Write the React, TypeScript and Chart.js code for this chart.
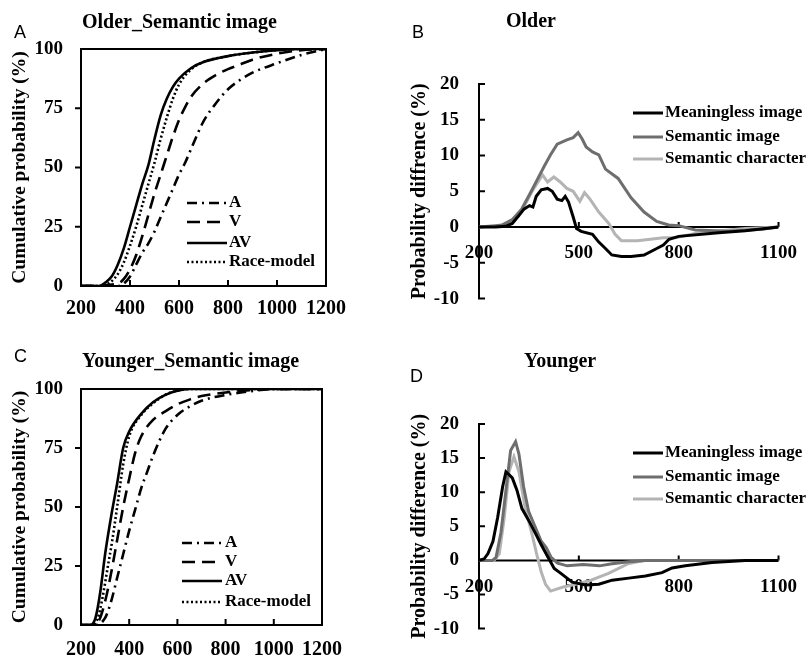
import React, { useEffect, useRef } from "react";
import { Chart, registerables } from "chart.js";
Chart.register(...registerables);

const SERIF = '"Liberation Serif", "Times New Roman", serif';
const SANS = '"Liberation Sans", Arial, sans-serif';

// ---------- tick values ----------
const cdfXTicks = [200, 400, 600, 800, 1000, 1200];
const cdfYTicks = [0, 25, 50, 75, 100];
const diffXTicks = [200, 500, 800, 1100];
const diffYTicks = [-10, -5, 0, 5, 10, 15, 20];

// ---------- Panel A: Older_Semantic image (cumulative probability %) ----------
const oldA_x = [200, 350, 375, 400, 425, 450, 475, 500, 525, 550, 575, 600, 625, 650, 675, 700, 750, 800, 850, 900, 1000, 1100, 1200];
const oldA_y = [0, 0, 1, 4, 9, 14, 18, 23, 29, 35, 41, 47, 52, 58, 64, 69.5, 77, 83, 87, 90, 94, 97.5, 100];
const oldV_x = [200, 350, 375, 400, 425, 450, 475, 500, 525, 550, 575, 600, 625, 650, 700, 750, 800, 850, 900, 1000, 1100, 1200];
const oldV_y = [0, 1, 3, 7, 13, 21, 30, 39, 47, 55, 63, 70, 75.5, 80, 85.5, 89, 91.5, 93.5, 95.5, 98, 99.5, 100];
const oldAV_x = [200, 275, 300, 325, 350, 375, 400, 425, 450, 475, 500, 525, 550, 575, 600, 650, 700, 800, 900, 1000, 1100, 1200];
const oldAV_y = [0, 0, 1.5, 4, 9, 16, 25, 34, 43, 51, 62, 72, 79, 84, 87.5, 92, 94.5, 97, 98.5, 99.5, 100, 100];
const oldRace_x = [200, 275, 300, 325, 350, 375, 400, 425, 450, 475, 500, 525, 550, 575, 600, 650, 700, 800, 900, 1000, 1100, 1200];
const oldRace_y = [0, 0, 0.5, 2, 5, 10, 17, 25, 34, 43, 52, 62, 71, 79, 85, 91.5, 94.5, 97, 98.5, 99.5, 100, 100];

// ---------- Panel C: Younger_Semantic image (cumulative probability %) ----------
const youA_x = [200, 260, 300, 325, 350, 375, 400, 425, 450, 475, 500, 550, 600, 650, 700, 800, 900, 1000, 1200];
const youA_y = [0, 0, 3, 10, 20, 30, 40, 49, 58, 65, 72, 83, 89, 92.5, 95, 97.5, 99, 100, 100];
const youV_x = [200, 250, 275, 300, 325, 350, 375, 400, 425, 450, 500, 550, 600, 650, 700, 800, 900, 1000, 1200];
const youV_y = [0, 0, 2, 10, 22, 36, 50, 62, 73, 80, 87, 90.5, 93.5, 95.5, 97, 98.5, 99.5, 100, 100];
const youAV_x = [200, 240, 260, 280, 300, 325, 350, 375, 400, 450, 500, 550, 600, 650, 1200];
const youAV_y = [0, 0, 3, 14, 30, 46, 60, 75, 82, 89.5, 94.5, 97.5, 99.3, 100, 100];
const youRace_x = [200, 250, 270, 290, 310, 330, 350, 375, 400, 450, 500, 550, 600, 650, 1200];
const youRace_y = [0, 0, 3, 12, 24, 36, 50, 68, 80, 89, 94, 97.5, 99.3, 100, 100];

// ---------- Panel B: Older (probability difference %) ----------
const oldMeanImg_x = [200, 250, 280, 300, 318, 335, 352, 362, 372, 387, 406, 420, 435, 449, 459, 469, 483, 493, 507, 541, 560, 580, 599, 628, 657, 696, 734, 754, 771, 800, 920, 1000, 1100];
const oldMeanImg_y = [0, 0, 0.1, 0.5, 1.5, 2.5, 3.0, 2.8, 4.3, 5.2, 5.4, 5.0, 3.9, 3.7, 4.3, 3.5, 1.4, -0.2, -0.6, -1.0, -2.1, -3.0, -3.9, -4.1, -4.1, -3.9, -3.0, -2.5, -1.7, -1.3, -0.8, -0.5, 0];
const oldSemImg_x = [200, 250, 270, 299, 328, 357, 377, 396, 415, 435, 464, 483, 498, 510, 522, 541, 560, 580, 618, 657, 696, 734, 770, 800, 850, 950, 1050, 1100];
const oldSemImg_y = [0, 0.2, 0.3, 1.0, 2.5, 5.0, 6.8, 8.5, 10.1, 11.6, 12.2, 12.5, 13.2, 12.3, 11.2, 10.5, 10.1, 8.1, 6.8, 4.1, 2.1, 0.8, 0.3, 0.2, -0.4, -0.6, -0.3, 0];
const oldSemChar_x = [200, 250, 299, 328, 357, 377, 391, 406, 425, 444, 464, 483, 503, 517, 532, 560, 590, 609, 628, 676, 715, 754, 790, 850, 950, 1000, 1100];
const oldSemChar_y = [0, 0.1, 0.5, 2.2, 4.8, 6.3, 7.3, 6.3, 7.0, 6.3, 5.4, 5.0, 3.6, 4.8, 4.0, 2.1, 0.5, -1.0, -1.9, -1.9, -1.7, -1.5, -1.5, -0.9, -0.4, -0.2, 0];

// ---------- Panel D: Younger (probability difference %) ----------
const youMeanImg_x = [200, 215, 227, 242, 256, 271, 281, 290, 300, 314, 329, 349, 368, 387, 407, 426, 446, 480, 520, 560, 600, 650, 700, 750, 780, 820, 900, 1000, 1100];
const youMeanImg_y = [0, 0.2, 1.0, 2.8, 6.3, 10.8, 13.0, 12.6, 12.1, 10.3, 7.6, 5.9, 4.1, 2.3, 0.5, -1.2, -1.9, -3.2, -3.6, -3.5, -2.9, -2.6, -2.3, -1.8, -1.1, -0.8, -0.3, 0, 0];
const youSemImg_x = [200, 240, 251, 266, 281, 295, 310, 320, 334, 349, 368, 387, 402, 416, 436, 465, 513, 562, 600, 650, 700, 800, 1100];
const youSemImg_y = [0, 0, 0.4, 4.1, 10.3, 16.1, 17.4, 15.6, 10.8, 7.2, 5.0, 2.8, 1.9, 0.5, -0.4, -0.8, -0.6, -0.8, -0.5, -0.2, 0, 0, 0];
const youSemChar_x = [200, 245, 261, 276, 290, 305, 320, 339, 358, 373, 387, 400, 415, 453, 490, 531, 589, 647, 700, 800, 1100];
const youSemChar_y = [0, 0, 1.0, 6.3, 13.0, 15.2, 13.0, 7.6, 4.1, 1.0, -1.7, -3.5, -4.5, -3.9, -3.5, -3.0, -1.9, -0.5, 0, 0, 0];

// ---------- labels ----------
const cdfLabels = ["A", "V", "AV", "Race-model"];
const diffLabels = ["Meaningless image", "Semantic image", "Semantic character"];

type S = { label: string; xs: number[]; ys: number[]; color: string; dash: number[]; width: number; smooth: boolean };

const pts = (xs: number[], ys: number[]) => xs.map((x, i) => ({ x, y: ys[i] }));

const cdfStyles = [
  { color: "#000", dash: [10, 5, 2, 5], width: 2.6 },
  { color: "#000", dash: [13, 7], width: 2.6 },
  { color: "#000", dash: [], width: 2.6 },
  { color: "#000", dash: [2, 2.5], width: 2.6 },
];
const diffStyles = [
  { color: "#000000", dash: [], width: 3 },
  { color: "#6e6e6e", dash: [], width: 3 },
  { color: "#b4b4b4", dash: [], width: 3 },
];

function legendPlugin(series: S[], lg: { x0: number; x1: number; tx: number; ys: number[] }) {
  return {
    id: "panelLegend",
    afterDraw(chart: any) {
      const ctx = chart.ctx;
      ctx.save();
      series.forEach((s, i) => {
        const y = lg.ys[i];
        ctx.beginPath();
        ctx.setLineDash(s.dash);
        ctx.strokeStyle = s.color;
        ctx.lineWidth = s.width;
        ctx.moveTo(lg.x0, y);
        ctx.lineTo(lg.x1, y);
        ctx.stroke();
        ctx.setLineDash([]);
        ctx.fillStyle = "#000";
        ctx.font = `bold 17px ${SERIF}`;
        ctx.textBaseline = "middle";
        ctx.textAlign = "left";
        ctx.fillText(s.label, lg.tx, y);
      });
      ctx.restore();
    },
  };
}

const cdfFrame = {
  id: "cdfFrame",
  afterDatasetsDraw(chart: any) {
    const { ctx, chartArea, scales } = chart;
    const { left, right, top, bottom } = chartArea;
    const x = scales.x, y = scales.y;
    ctx.save();
    ctx.strokeStyle = "#000";
    ctx.lineWidth = 2;
    ctx.strokeRect(left, top, right - left, bottom - top);
    ctx.beginPath();
    x.ticks.forEach((t: any) => {
      if (t.value > x.min && t.value < x.max) {
        const p = x.getPixelForValue(t.value);
        ctx.moveTo(p, bottom);
        ctx.lineTo(p, bottom - 6);
      }
    });
    y.ticks.forEach((t: any) => {
      if (t.value > y.min && t.value < y.max) {
        const p = y.getPixelForValue(t.value);
        ctx.moveTo(left, p);
        ctx.lineTo(left - 6, p);
      }
    });
    ctx.stroke();
    ctx.restore();
  },
};

const diffAxes = {
  id: "diffAxes",
  beforeDatasetsDraw(chart: any) {
    const { ctx, chartArea, scales } = chart;
    const { left, right, top, bottom } = chartArea;
    const x = scales.x, y = scales.y;
    const y0 = y.getPixelForValue(0);
    ctx.save();
    ctx.strokeStyle = "#000";
    ctx.lineWidth = 2;
    ctx.beginPath();
    ctx.moveTo(left, top);
    ctx.lineTo(left, bottom);
    y.ticks.forEach((t: any) => {
      const p = y.getPixelForValue(t.value);
      ctx.moveTo(left - 1, p);
      ctx.lineTo(left + 6, p);
    });
    ctx.moveTo(left, y0);
    ctx.lineTo(right, y0);
    x.ticks.forEach((t: any) => {
      if (t.value > x.min) {
        const p = x.getPixelForValue(t.value);
        ctx.moveTo(p, y0);
        ctx.lineTo(p, y0 - 5);
      }
    });
    ctx.stroke();
    ctx.restore();
  },
};

function datasets(series: S[]) {
  return series.map((s) => ({
    label: s.label,
    data: pts(s.xs, s.ys),
    borderColor: s.color,
    borderWidth: s.width,
    borderDash: s.dash,
    pointRadius: 0,
    fill: false,
    tension: 0,
    cubicInterpolationMode: s.smooth ? ("monotone" as const) : ("default" as const),
  }));
}

function cdfConfig(series: S[], p: any) {
  return {
    type: "line" as const,
    data: { datasets: datasets(series) },
    options: {
      responsive: false,
      animation: false as const,
      layout: { padding: { left: 0, top: p.top, right: p.right, bottom: 0 } },
      plugins: { legend: { display: false }, tooltip: { enabled: false }, title: { display: false } },
      scales: {
        x: {
          type: "linear" as const,
          min: 200,
          max: 1200,
          grid: { display: false, drawTicks: false },
          border: { display: false },
          afterBuildTicks: (s: any) => { s.ticks = cdfXTicks.map((v) => ({ value: v })); },
          afterFit: (s: any) => { s.height = p.xh; },
          ticks: {
            autoSkip: false, maxRotation: 0, minRotation: 0, padding: p.xpad, color: "#000",
            font: { family: SERIF, size: 20, weight: "bold" as const },
            callback: (v: any) => String(v),
          },
        },
        y: {
          type: "linear" as const,
          min: 0,
          max: 100,
          grid: { display: false, drawTicks: false },
          border: { display: false },
          afterBuildTicks: (s: any) => { s.ticks = cdfYTicks.map((v) => ({ value: v })); },
          afterFit: (s: any) => { s.width = p.yw; },
          ticks: {
            padding: 18, color: "#000",
            font: { family: SERIF, size: 19, weight: "bold" as const },
            callback: (v: any) => String(v),
          },
          title: {
            display: true, text: "Cumulative probability (%)", color: "#000",
            font: { family: SERIF, size: 19.5, weight: "bold" as const },
            padding: { top: 8, bottom: 0 },
          },
        },
      },
    },
    plugins: [cdfFrame, legendPlugin(series, p.legend)],
  };
}

function diffConfig(series: S[], p: any, ytitle: string) {
  return {
    type: "line" as const,
    data: { datasets: datasets(series) },
    options: {
      responsive: false,
      animation: false as const,
      layout: { padding: { left: 0, top: p.top, right: p.right, bottom: p.bottom } },
      plugins: { legend: { display: false }, tooltip: { enabled: false }, title: { display: false } },
      scales: {
        x: {
          type: "linear" as const,
          position: { y: 0 },
          min: 200,
          max: 1100,
          grid: { display: false, drawTicks: false },
          border: { display: false },
          afterBuildTicks: (s: any) => { s.ticks = diffXTicks.map((v) => ({ value: v })); },
          ticks: {
            autoSkip: false, maxRotation: 0, minRotation: 0, padding: 15, color: "#000",
            font: { family: SERIF, size: 19, weight: "bold" as const },
            callback: (v: any) => String(v),
          },
        },
        y: {
          type: "linear" as const,
          min: -10,
          max: 20,
          grid: { display: false, drawTicks: false },
          border: { display: false },
          afterBuildTicks: (s: any) => { s.ticks = diffYTicks.map((v) => ({ value: v })); },
          afterFit: (s: any) => { s.width = p.yw; },
          ticks: {
            padding: 20, color: "#000",
            font: { family: SERIF, size: 19, weight: "bold" as const },
            callback: (v: any) => String(v),
          },
          title: {
            display: true, text: ytitle, color: "#000",
            font: { family: SERIF, size: 20, weight: "bold" as const },
            padding: { top: 2, bottom: 0 },
          },
        },
      },
    },
    plugins: [diffAxes, legendPlugin(series, p.legend)],
  };
}

function mkCdf(a: [number[], number[]][]): S[] {
  return a.map(([xs, ys], i) => ({ label: cdfLabels[i], xs, ys, ...cdfStyles[i], smooth: true }));
}
function mkDiff(a: [number[], number[]][]): S[] {
  return a.map(([xs, ys], i) => ({ label: diffLabels[i], xs, ys, ...diffStyles[i], smooth: false }));
}

function Panel({ config, left, top }: { config: any; left: number; top: number }) {
  const ref = useRef<HTMLCanvasElement>(null);
  useEffect(() => {
    const chart = new Chart(ref.current as HTMLCanvasElement, config);
    return () => chart.destroy();
  }, []);
  return (
    <div style={{ position: "absolute", left, top, width: 406, height: 330 }}>
      <canvas ref={ref} width={406} height={330} style={{ width: 406, height: 330, display: "block" }} />
    </div>
  );
}

function Txt({ text, left, top, size, bold, family }: any) {
  return (
    <div
      style={{
        position: "absolute", left, top, fontSize: size, lineHeight: `${size}px`,
        fontWeight: bold ? "bold" : "normal", fontFamily: family, color: "#000", whiteSpace: "nowrap",
      }}
    >
      {text}
    </div>
  );
}

export default function App() {
  const seriesA = mkCdf([[oldA_x, oldA_y], [oldV_x, oldV_y], [oldAV_x, oldAV_y], [oldRace_x, oldRace_y]]);
  const seriesC = mkCdf([[youA_x, youA_y], [youV_x, youV_y], [youAV_x, youAV_y], [youRace_x, youRace_y]]);
  const seriesB = mkDiff([[oldMeanImg_x, oldMeanImg_y], [oldSemImg_x, oldSemImg_y], [oldSemChar_x, oldSemChar_y]]);
  const seriesD = mkDiff([[youMeanImg_x, youMeanImg_y], [youSemImg_x, youSemImg_y], [youSemChar_x, youSemChar_y]]);

  const cfgA = cdfConfig(seriesA, { top: 49, right: 80, xh: 44, yw: 81, xpad: 11, legend: { x0: 187, x1: 227, tx: 229, ys: [203, 222, 243, 262] } });
  const cfgC = cdfConfig(seriesC, { top: 59, right: 84, xh: 35, yw: 81, xpad: 13, legend: { x0: 182, x1: 222, tx: 225, ys: [213, 232, 251, 272] } });
  const cfgB = diffConfig(seriesB, { top: 84, right: 23, bottom: 21, yw: 73, legend: { x0: 227, x1: 257, tx: 259, ys: [113, 137, 159] } }, "Probability diffrence (%)");
  const cfgD = diffConfig(seriesD, { top: 94, right: 23, bottom: 11, yw: 73, legend: { x0: 227, x1: 257, tx: 259, ys: [123, 147, 169] } }, "Probability difference (%)");

  return (
    <div style={{ position: "absolute", left: 0, top: 0, width: 812, height: 660, background: "#fff", overflow: "hidden" }}>
      <Panel config={cfgA} left={0} top={0} />
      <Panel config={cfgB} left={406} top={0} />
      <Panel config={cfgC} left={0} top={330} />
      <Panel config={cfgD} left={406} top={330} />
      <Txt text="Older_Semantic image" left={82} top={11} size={20} bold family={SERIF} />
      <Txt text="Older" left={506} top={10} size={20} bold family={SERIF} />
      <Txt text="Younger_Semantic image" left={82} top={350} size={20} bold family={SERIF} />
      <Txt text="Younger" left={524} top={350} size={20} bold family={SERIF} />
      <Txt text="A" left={14} top={23} size={18} family={SANS} />
      <Txt text="B" left={412} top={23} size={18} family={SANS} />
      <Txt text="C" left={14} top={347} size={18} family={SANS} />
      <Txt text="D" left={410} top={367} size={18} family={SANS} />
    </div>
  );
}
